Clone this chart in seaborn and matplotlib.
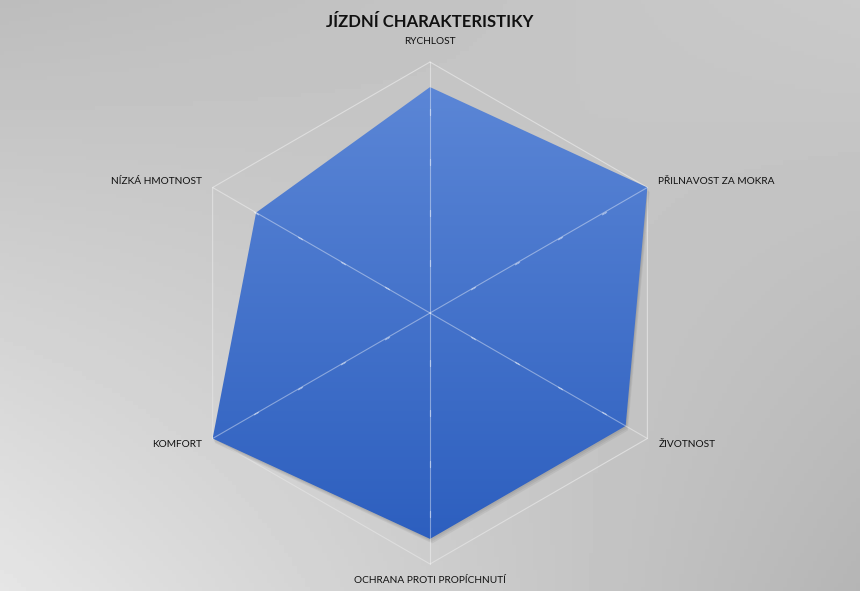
import numpy as np
import matplotlib
matplotlib.use('Agg')
import matplotlib.pyplot as plt
import seaborn as sns
from matplotlib.colors import LinearSegmentedColormap
from matplotlib.patches import Polygon

# data
categories = ['RYCHLOST', 'PŘILNAVOST ZA MOKRA', 'ŽIVOTNOST',
              'OCHRANA PROTI PROPÍCHNUTÍ', 'KOMFORT', 'NÍZKÁ HMOTNOST']
values = [4.5, 5, 4.5, 4.5, 5, 4]
r_max = 5
tick_values = [1, 2, 3, 4]
title = 'JÍZDNÍ CHARAKTERISTIKY'

sns.set_theme(style='white')
plt.rcParams['font.family'] = ['Lato', 'DejaVu Sans']

W, H = 860, 591
cx, cy, R = 430, 313, 251
ppu = R / r_max  # pixels per value unit

fig = plt.figure(figsize=(W / 100, H / 100), dpi=100)

# background gradient
bg = fig.add_axes([0, 0, 1, 1], zorder=0)
u = np.linspace(0, 1, 200)[None, :]
v = np.linspace(0, 1, 140)[:, None]  # 0 top, 1 bottom
tl, tr, bl, br = 0.74, 0.79, 0.90, 0.71
grad = (tl * (1 - u) * (1 - v) + tr * u * (1 - v) + bl * (1 - u) * v + br * u * v)
bg.imshow(grad, cmap='gray', vmin=0, vmax=1, aspect='auto', extent=[0, 1, 1, 0])
bg.set_axis_off()

ax = fig.add_axes([0, 0, 1, 1], zorder=1)
ax.set_xlim(-cx / ppu, (W - cx) / ppu)
ax.set_ylim(-(H - cy) / ppu, cy / ppu)
ax.set_axis_off()
ax.patch.set_alpha(0)

n = len(categories)
angles = np.pi / 2 - np.arange(n) * 2 * np.pi / n
ux, uy = np.cos(angles), np.sin(angles)

# outer grid hexagon
gx = np.append(ux, ux[0]) * r_max
gy = np.append(uy, uy[0]) * r_max
sns.lineplot(x=gx, y=gy, sort=False, estimator=None, color='#dedede', lw=0.8,
             ax=ax, zorder=1)

# data polygon with soft shadow and gradient fill
vals = np.array(values, dtype=float)
px, py = ux * vals, uy * vals
pts = np.column_stack([px, py])
for k, a in enumerate([0.08, 0.08, 0.08]):
    off = 0.03 * (k + 1)
    ax.add_patch(Polygon(pts + np.array([off * 0.5, -off]), closed=True,
                         fc='#3a3a3a', ec='none', alpha=a, zorder=2))
poly = Polygon(pts, closed=True, fc='none', ec='none', zorder=3)
ax.add_patch(poly)
cmap = LinearSegmentedColormap.from_list('fill', ['#2d5fbf', '#5b86d6'])
fy = np.linspace(0, 1, 256)[:, None]
img = ax.imshow(fy, cmap=cmap, aspect='auto', origin='lower',
                extent=[px.min(), px.max(), py.min(), py.max()], zorder=3)
img.set_clip_path(poly)

# spokes and tick marks
for x, y in zip(ux, uy):
    sns.lineplot(x=[0, x * r_max], y=[0, y * r_max], sort=False, estimator=None,
                 color='white', lw=0.8, alpha=0.4, ax=ax, zorder=4)
    ang = np.degrees(np.arctan2(y, x)) + 90
    for t in tick_values:
        ax.plot(x * t, y * t, marker=(2, 2, ang), ms=4, mew=0.8,
                color='white', alpha=0.4, zorder=4)

# labels
for lab, x, y in zip(categories, ux, uy):
    if abs(x) < 1e-6:
        rr = 5.4 if y > 0 else 5.32
        ax.text(x * rr, y * rr, lab, ha='center', va='center', fontsize=7.3,
                color='#111111')
    else:
        rr = 5.25
        ax.text(x * rr, y * rr, lab, ha='left' if x > 0 else 'right', va='center',
                fontsize=7.3, color='#111111')

fig.text(0.5, 1 - 22 / H, title, ha='center', va='center', fontsize=12,
         fontweight='bold', color='#111111')

fig.savefig('out.png', dpi=100)
